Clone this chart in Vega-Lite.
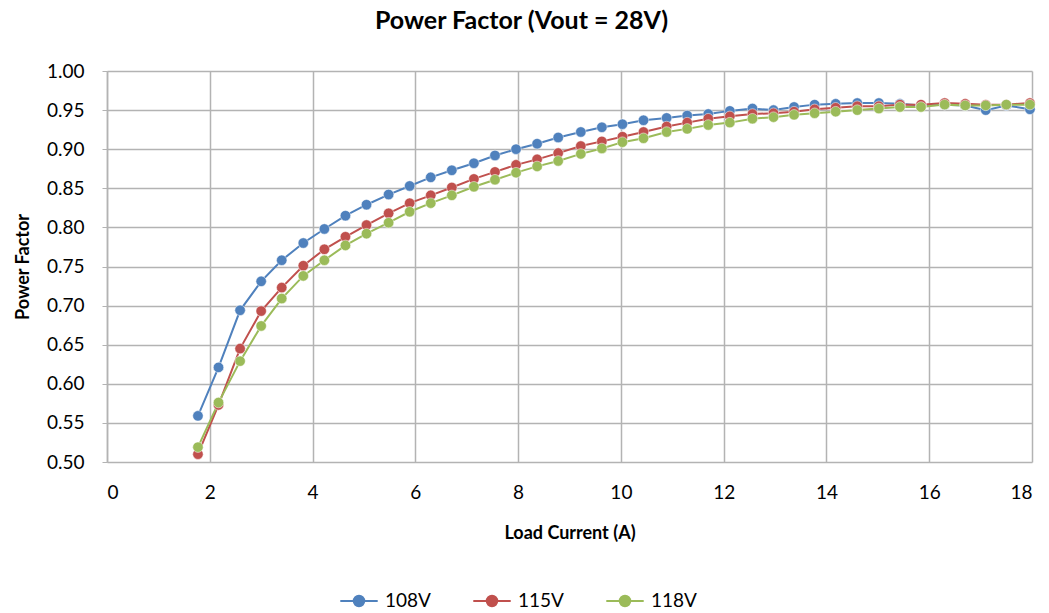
{
  "$schema": "https://vega.github.io/schema/vega-lite/v6.json",
  "autosize": "none",
  "width": 925,
  "height": 391,
  "padding": {"left": 107, "top": 71, "right": 17, "bottom": 151},
  "background": "white",
  "title": {"text": "Power Factor (Vout = 28V)", "font": "Lato", "fontSize": 25, "fontWeight": "bold", "color": "#000000", "anchor": "middle", "dx": -48, "offset": 28},
  "config": {
    "view": {"stroke": null},
    "font": "Lato",
    "axis": {"gridColor": "#b3b3b3", "gridWidth": 1.5, "domainColor": "#b3b3b3", "domainWidth": 1.5, "tickColor": "#b3b3b3", "tickSize": 5, "labelFont": "Lato", "labelFontSize": 19, "labelColor": "#000000", "titleFont": "Lato", "titleFontSize": 18, "titleFontWeight": "bold", "titleColor": "#000000"}
  },
  "datasets": {
    "pf": [
      {"I": 1.77, "s": "108V", "pf": 0.559}, {"I": 2.17, "s": "108V", "pf": 0.621}, {"I": 2.59, "s": "108V", "pf": 0.694}, {"I": 3.0, "s": "108V", "pf": 0.731}, {"I": 3.4, "s": "108V", "pf": 0.758}, {"I": 3.82, "s": "108V", "pf": 0.780}, {"I": 4.23, "s": "108V", "pf": 0.798}, {"I": 4.64, "s": "108V", "pf": 0.815}, {"I": 5.05, "s": "108V", "pf": 0.829}, {"I": 5.48, "s": "108V", "pf": 0.842}, {"I": 5.89, "s": "108V", "pf": 0.853}, {"I": 6.3, "s": "108V", "pf": 0.864}, {"I": 6.71, "s": "108V", "pf": 0.873}, {"I": 7.14, "s": "108V", "pf": 0.882}, {"I": 7.55, "s": "108V", "pf": 0.892}, {"I": 7.96, "s": "108V", "pf": 0.900}, {"I": 8.37, "s": "108V", "pf": 0.907}, {"I": 8.78, "s": "108V", "pf": 0.915}, {"I": 9.22, "s": "108V", "pf": 0.922}, {"I": 9.63, "s": "108V", "pf": 0.928}, {"I": 10.03, "s": "108V", "pf": 0.932}, {"I": 10.44, "s": "108V", "pf": 0.937}, {"I": 10.89, "s": "108V", "pf": 0.940}, {"I": 11.29, "s": "108V", "pf": 0.943}, {"I": 11.7, "s": "108V", "pf": 0.945}, {"I": 12.12, "s": "108V", "pf": 0.949}, {"I": 12.56, "s": "108V", "pf": 0.952}, {"I": 12.97, "s": "108V", "pf": 0.950}, {"I": 13.37, "s": "108V", "pf": 0.954}, {"I": 13.77, "s": "108V", "pf": 0.957}, {"I": 14.18, "s": "108V", "pf": 0.958}, {"I": 14.6, "s": "108V", "pf": 0.959}, {"I": 15.02, "s": "108V", "pf": 0.959}, {"I": 15.43, "s": "108V", "pf": 0.958}, {"I": 15.84, "s": "108V", "pf": 0.956}, {"I": 16.3, "s": "108V", "pf": 0.957}, {"I": 16.7, "s": "108V", "pf": 0.956}, {"I": 17.1, "s": "108V", "pf": 0.950}, {"I": 17.5, "s": "108V", "pf": 0.956}, {"I": 17.96, "s": "108V", "pf": 0.951},
      {"I": 1.77, "s": "115V", "pf": 0.510}, {"I": 2.17, "s": "115V", "pf": 0.573}, {"I": 2.59, "s": "115V", "pf": 0.645}, {"I": 3.0, "s": "115V", "pf": 0.693}, {"I": 3.4, "s": "115V", "pf": 0.723}, {"I": 3.82, "s": "115V", "pf": 0.751}, {"I": 4.23, "s": "115V", "pf": 0.772}, {"I": 4.64, "s": "115V", "pf": 0.788}, {"I": 5.05, "s": "115V", "pf": 0.803}, {"I": 5.48, "s": "115V", "pf": 0.818}, {"I": 5.89, "s": "115V", "pf": 0.831}, {"I": 6.3, "s": "115V", "pf": 0.841}, {"I": 6.71, "s": "115V", "pf": 0.851}, {"I": 7.14, "s": "115V", "pf": 0.862}, {"I": 7.55, "s": "115V", "pf": 0.871}, {"I": 7.96, "s": "115V", "pf": 0.880}, {"I": 8.37, "s": "115V", "pf": 0.887}, {"I": 8.78, "s": "115V", "pf": 0.895}, {"I": 9.22, "s": "115V", "pf": 0.904}, {"I": 9.63, "s": "115V", "pf": 0.910}, {"I": 10.03, "s": "115V", "pf": 0.916}, {"I": 10.44, "s": "115V", "pf": 0.922}, {"I": 10.89, "s": "115V", "pf": 0.929}, {"I": 11.29, "s": "115V", "pf": 0.934}, {"I": 11.7, "s": "115V", "pf": 0.939}, {"I": 12.12, "s": "115V", "pf": 0.942}, {"I": 12.56, "s": "115V", "pf": 0.945}, {"I": 12.97, "s": "115V", "pf": 0.946}, {"I": 13.37, "s": "115V", "pf": 0.948}, {"I": 13.77, "s": "115V", "pf": 0.951}, {"I": 14.18, "s": "115V", "pf": 0.953}, {"I": 14.6, "s": "115V", "pf": 0.955}, {"I": 15.02, "s": "115V", "pf": 0.955}, {"I": 15.43, "s": "115V", "pf": 0.957}, {"I": 15.84, "s": "115V", "pf": 0.957}, {"I": 16.3, "s": "115V", "pf": 0.959}, {"I": 16.7, "s": "115V", "pf": 0.958}, {"I": 17.1, "s": "115V", "pf": 0.957}, {"I": 17.5, "s": "115V", "pf": 0.957}, {"I": 17.96, "s": "115V", "pf": 0.959},
      {"I": 1.77, "s": "118V", "pf": 0.519}, {"I": 2.17, "s": "118V", "pf": 0.576}, {"I": 2.59, "s": "118V", "pf": 0.629}, {"I": 3.0, "s": "118V", "pf": 0.674}, {"I": 3.4, "s": "118V", "pf": 0.709}, {"I": 3.82, "s": "118V", "pf": 0.738}, {"I": 4.23, "s": "118V", "pf": 0.758}, {"I": 4.64, "s": "118V", "pf": 0.777}, {"I": 5.05, "s": "118V", "pf": 0.792}, {"I": 5.48, "s": "118V", "pf": 0.806}, {"I": 5.89, "s": "118V", "pf": 0.820}, {"I": 6.3, "s": "118V", "pf": 0.831}, {"I": 6.71, "s": "118V", "pf": 0.841}, {"I": 7.14, "s": "118V", "pf": 0.852}, {"I": 7.55, "s": "118V", "pf": 0.861}, {"I": 7.96, "s": "118V", "pf": 0.870}, {"I": 8.37, "s": "118V", "pf": 0.878}, {"I": 8.78, "s": "118V", "pf": 0.885}, {"I": 9.22, "s": "118V", "pf": 0.894}, {"I": 9.63, "s": "118V", "pf": 0.901}, {"I": 10.03, "s": "118V", "pf": 0.909}, {"I": 10.44, "s": "118V", "pf": 0.914}, {"I": 10.89, "s": "118V", "pf": 0.922}, {"I": 11.29, "s": "118V", "pf": 0.926}, {"I": 11.7, "s": "118V", "pf": 0.931}, {"I": 12.12, "s": "118V", "pf": 0.934}, {"I": 12.56, "s": "118V", "pf": 0.939}, {"I": 12.97, "s": "118V", "pf": 0.941}, {"I": 13.37, "s": "118V", "pf": 0.944}, {"I": 13.77, "s": "118V", "pf": 0.946}, {"I": 14.18, "s": "118V", "pf": 0.948}, {"I": 14.6, "s": "118V", "pf": 0.950}, {"I": 15.02, "s": "118V", "pf": 0.952}, {"I": 15.43, "s": "118V", "pf": 0.954}, {"I": 15.84, "s": "118V", "pf": 0.954}, {"I": 16.3, "s": "118V", "pf": 0.957}, {"I": 16.7, "s": "118V", "pf": 0.956}, {"I": 17.1, "s": "118V", "pf": 0.956}, {"I": 17.5, "s": "118V", "pf": 0.957}, {"I": 17.96, "s": "118V", "pf": 0.957}
    ]
  },
  "data": {"name": "pf"},
  "encoding": {
    "x": {"field": "I", "type": "quantitative", "scale": {"domain": [0, 18], "nice": false, "zero": false},
          "axis": {"title": "Load Current (A)", "values": [0, 2, 4, 6, 8, 10, 12, 14, 16, 18], "tickSize": 0, "labelPadding": 21, "titlePadding": 22, "domain": false}},
    "y": {"field": "pf", "type": "quantitative", "scale": {"domain": [0.5, 1.0], "nice": false, "zero": false},
          "axis": {"title": "Power Factor", "values": [0.5, 0.55, 0.6, 0.65, 0.7, 0.75, 0.8, 0.85, 0.9, 0.95, 1.0], "format": ".2f", "labelPadding": 18, "titlePadding": 14}},
    "color": {"field": "s", "type": "nominal",
      "scale": {"domain": ["108V", "115V", "118V"], "range": ["#4F81BD", "#C0504D", "#9BBB59"]},
      "legend": {"title": null, "orient": "none", "direction": "horizontal", "legendX": 232, "legendY": 510,
        "symbolType": "M-1,0L1,0M-0.28,0a0.28,0.28 0 1,0 0.56,0a0.28,0.28 0 1,0 -0.56,0Z", "symbolSize": 1400, "symbolStrokeWidth": 2,
        "labelFont": "Lato", "labelFontSize": 19, "labelColor": "#000000", "columnPadding": 38, "labelOffset": 6}}
  },
  "layer": [
    {"mark": {"type": "line", "strokeWidth": 2, "clip": true}},
    {"mark": {"type": "point", "filled": true, "size": 110, "opacity": 1, "stroke": "white", "strokeWidth": 0.5, "clip": false}}
  ]
}
